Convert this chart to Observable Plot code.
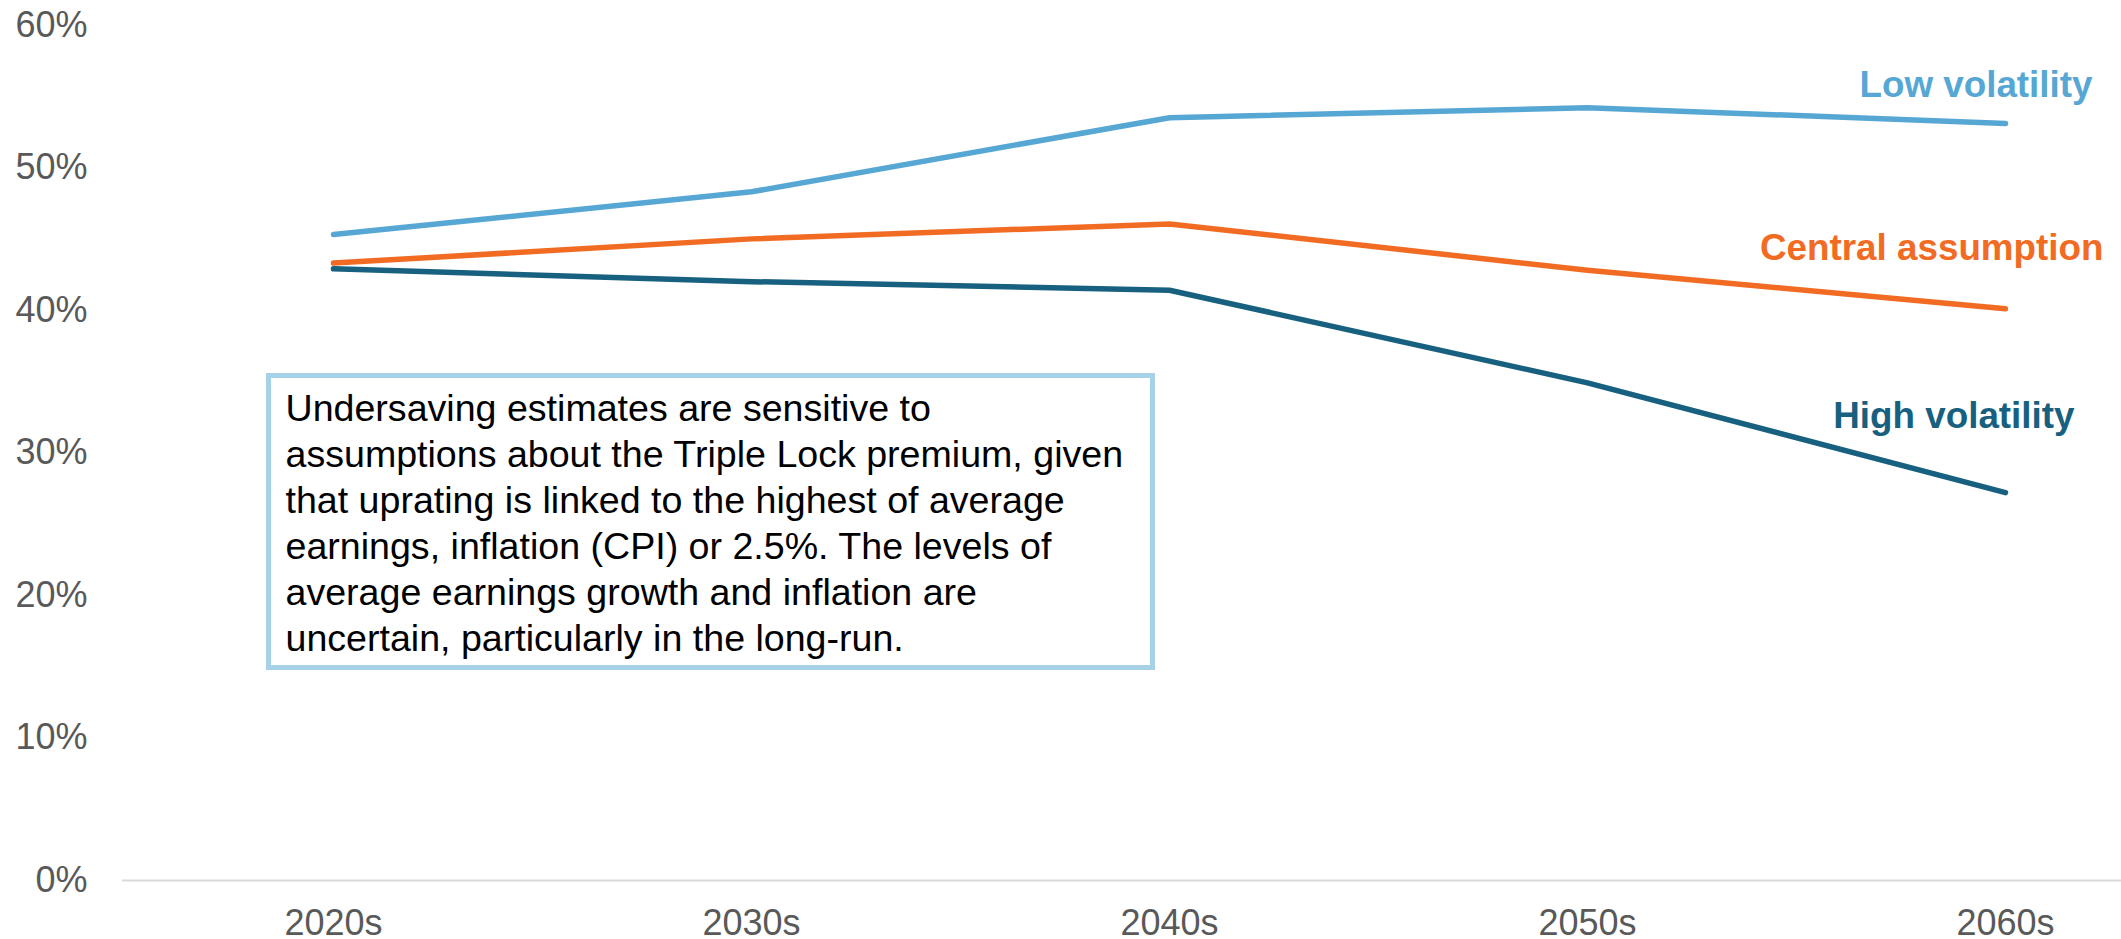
<!DOCTYPE html>
<html>
<head>
<meta charset="utf-8">
<script src="https://cdn.jsdelivr.net/npm/d3@7"></script>
<script src="https://cdn.jsdelivr.net/npm/@observablehq/plot@0.6"></script>
<style>
  html, body { margin: 0; padding: 0; background: #ffffff; }
  #chart { position: relative; width: 2121px; height: 939px; font-family: "Liberation Sans", Arial, sans-serif; }
  #chart svg { display: block; }
  .note {
    position: absolute;
    left: 265.5px; top: 373.3px;
    width: 889.5px; height: 296.7px;
    box-sizing: border-box;
    border: 5.5px solid #a6d1e7;
    background: #ffffff;
    padding: 6.5px 0 0 15px;
    font-size: 37.6px;
    line-height: 46px;
    color: #000000;
    white-space: pre;
  }
</style>
</head>
<body>
<div id="chart"></div>
<script>
// Decades on the x axis and the share (%) for each volatility scenario
const decades = ["2020s", "2030s", "2040s", "2050s", "2060s"];
const lowVolatility = [45.3, 48.3, 53.5, 54.2, 53.1];
const centralAssumption = [43.3, 45.0, 46.05, 42.8, 40.1];
const highVolatility = [42.9, 42.0, 41.4, 34.9, 27.2];
const yTicks = [0, 10, 20, 30, 40, 50, 60];

const seriesNames = ["Low volatility", "Central assumption", "High volatility"];
const seriesColors = ["#57a7d5", "#f26b23", "#17607f"];
const seriesValues = [lowVolatility, centralAssumption, highVolatility];

const noteLines = [
  "Undersaving estimates are sensitive to",
  "assumptions about the Triple Lock premium, given",
  "that uprating is linked to the highest of average",
  "earnings, inflation (CPI) or 2.5%. The levels of",
  "average earnings growth and inflation are",
  "uncertain, particularly in the long-run."
];

// Long-format rows for the line marks
const rows = seriesNames.flatMap((name, s) =>
  decades.map((decade, i) => ({ series: name, decade, value: seriesValues[s][i] }))
);
const lastPoints = seriesNames.map((name, s) => ({
  series: name, decade: decades[decades.length - 1], value: seriesValues[s][decades.length - 1]
}));

const font = '"Liberation Sans", Arial, sans-serif';
const labelShift = { "Low volatility": [87, -38.5], "Central assumption": [98, -60.5], "High volatility": [69, -76] };

const chart = Plot.plot({
  width: 2121,
  height: 939,
  marginLeft: 122,
  marginRight: 0,
  marginTop: 24.5,
  marginBottom: 59,
  style: { fontFamily: font, background: "#ffffff", overflow: "visible" },
  x: { type: "point", domain: decades, range: [332, 2006], padding: 0, align: 0.5 },
  y: { domain: [0, 60] },
  color: { domain: seriesNames, range: seriesColors },
  marks: [
    Plot.axisY({
      ticks: yTicks, tickSize: 0, tickPadding: 35, fontSize: 36,
      color: "#595959", tickFormat: d => d + "%", label: null
    }),
    Plot.axisX({ tickSize: 0, tickPadding: 28.5, fontSize: 36, color: "#595959", label: null }),
    Plot.ruleY([0], { stroke: "#d9d9d9", strokeWidth: 2 }),
    Plot.line(rows, {
      x: "decade", y: "value", z: "series", stroke: "series",
      strokeWidth: 5.5, strokeLinecap: "round", strokeLinejoin: "round"
    }),
    ...lastPoints.map(p => Plot.text([p], {
      x: "decade", y: "value", text: "series", fill: "series",
      textAnchor: "end", fontSize: 36.8, fontWeight: "bold",
      dx: labelShift[p.series][0], dy: labelShift[p.series][1]
    }))
  ]
});

const host = document.getElementById("chart");
host.appendChild(chart);

// Explanatory callout box over the chart
const note = document.createElement("div");
note.className = "note";
note.textContent = noteLines.join("\n");
host.appendChild(note);
</script>
</body>
</html>
